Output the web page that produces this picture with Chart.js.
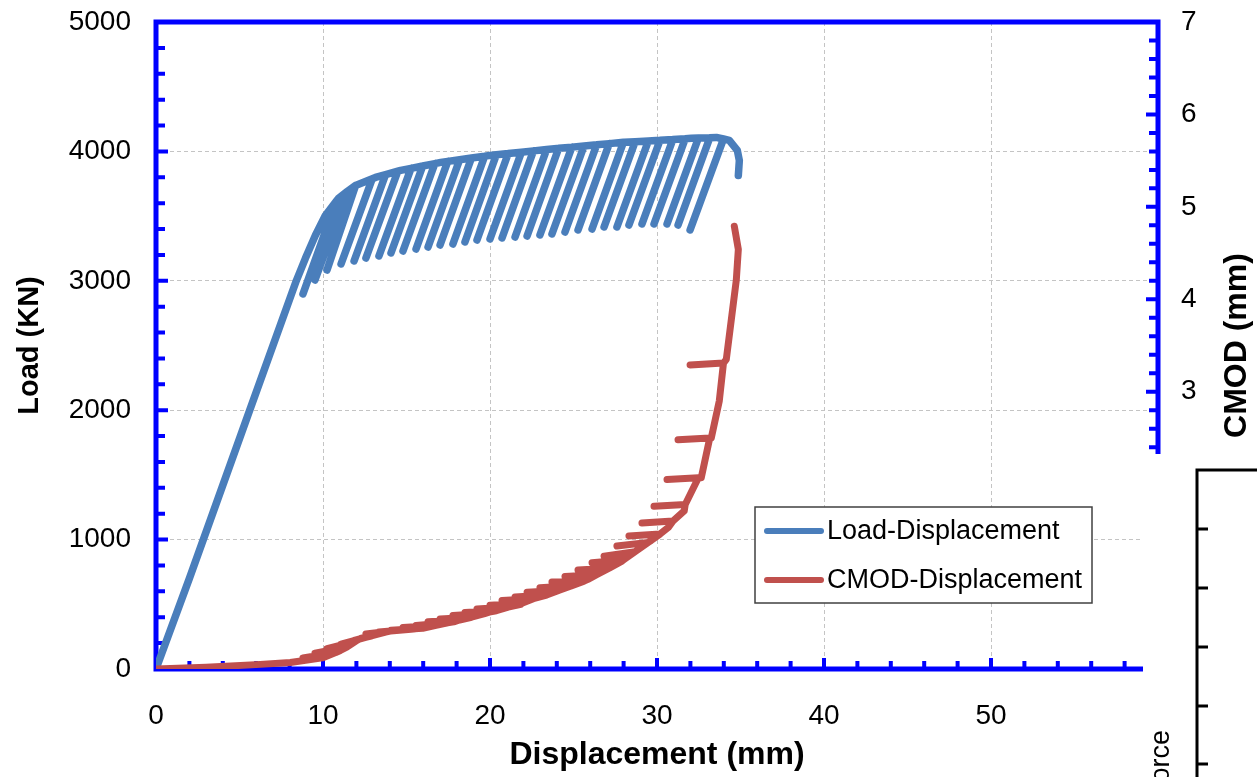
<!DOCTYPE html>
<html>
<head>
<meta charset="utf-8">
<script src="https://cdn.jsdelivr.net/npm/chart.js@4.4.1/dist/chart.umd.min.js"></script>
<style>
  html, body { margin: 0; padding: 0; background: #fff; }
  #wrap { width: 1257px; height: 777px; }
</style>
</head>
<body>
<div id="wrap"><canvas id="loadChart" width="1257" height="777"></canvas></div>
<script>
// envelope of the load curve (mm, kN)
const loadEnvDisp = [0, 2.0, 5.5, 8.4, 8.94, 9.54, 10.14, 10.92, 11.94, 13.14, 14.65, 17.05, 19.99, 24.01, 28.03, 32.05, 33.55, 34.33, 34.81, 34.93, 34.87];
const loadEnvKN = [0, 700, 1960, 3000, 3172, 3350, 3505, 3636, 3737, 3799, 3853, 3915, 3969, 4023, 4070, 4101, 4108, 4085, 4008, 3930, 3814];

// unload / reload cycles: start point on the envelope and lowest point
const cycleTopDisp = [10.8, 11.45, 11.95, 12.95, 13.75, 14.48, 15.27, 15.97, 16.70, 17.47, 18.18, 18.89, 19.68, 20.38, 21.09, 21.88, 22.60, 23.39, 24.11, 24.90, 25.63, 26.39, 27.14, 27.99, 28.69, 29.48, 30.18, 30.95, 31.69, 32.48, 33.16, 33.98];
const cycleTopKN = [3616, 3690, 3737, 3789, 3821, 3847, 3869, 3887, 3906, 3923, 3936, 3949, 3963, 3974, 3983, 3994, 4004, 4015, 4024, 4033, 4042, 4051, 4060, 4070, 4075, 4081, 4086, 4092, 4098, 4103, 4106, 4096];
const cycleLowDisp = [8.80, 9.52, 10.24, 11.08, 11.86, 12.57, 13.35, 14.07, 14.79, 15.57, 16.29, 17.01, 17.78, 18.50, 19.22, 20.00, 20.72, 21.50, 22.22, 22.99, 23.71, 24.49, 25.27, 26.11, 26.83, 27.60, 28.32, 29.10, 29.82, 30.60, 31.26, 31.98];
const cycleLowKN = [2898, 3006, 3083, 3130, 3153, 3176, 3192, 3215, 3230, 3245, 3261, 3276, 3284, 3300, 3315, 3323, 3331, 3338, 3346, 3354, 3362, 3377, 3393, 3400, 3416, 3416, 3431, 3439, 3439, 3439, 3431, 3393];

// CMOD envelope (mm, mm) and CMOD at the same cycles
const cmodEnvDisp = [0, 3.0, 6.24, 8.04, 9.96, 11.04, 12.24, 14.05, 15.85, 17.83, 20.05, 21.85, 23.83, 25.87, 27.85, 29.65, 30.67, 31.63, 32.65, 33.25, 33.73, 34.15, 34.45, 34.75, 34.87, 34.63];
const cmodEnvMM = [0, 0.02, 0.05, 0.07, 0.12, 0.20, 0.33, 0.41, 0.44, 0.51, 0.62, 0.70, 0.83, 0.97, 1.16, 1.39, 1.53, 1.71, 2.07, 2.50, 2.90, 3.35, 3.78, 4.21, 4.54, 4.79];
const cycleTopCmod = [0.18, 0.24, 0.30, 0.36, 0.40, 0.42, 0.43, 0.44, 0.47, 0.50, 0.53, 0.56, 0.60, 0.63, 0.67, 0.71, 0.76, 0.80, 0.85, 0.90, 0.95, 1.02, 1.09, 1.18, 1.27, 1.37, 1.46, 1.60, 1.78, 2.07, 2.50, 3.31];
const cycleLowCmod = [0.12, 0.17, 0.22, 0.27, 0.31, 0.38, 0.40, 0.42, 0.45, 0.47, 0.51, 0.54, 0.58, 0.61, 0.65, 0.69, 0.74, 0.78, 0.83, 0.88, 0.94, 1.00, 1.07, 1.15, 1.22, 1.33, 1.44, 1.58, 1.76, 2.05, 2.48, 3.29];

const seriesNames = ['Load-Displacement', 'CMOD-Displacement'];
const seriesColors = ['#4a7ebb', '#c0504d'];

const FONT = "'Liberation Sans', Arial, sans-serif";
const AXIS_BLUE = '#0000ff';

// walk the envelope and drop each cycle in where its displacement is reached
function buildSeries(envX, envY, topY, lowY) {
    const pts = [];
    let c = 0;
    envX.forEach((x, i) => {
        while (c < cycleTopDisp.length && cycleTopDisp[c] <= x) {
            pts.push({ x: cycleTopDisp[c], y: topY[c] });
            pts.push({ x: cycleLowDisp[c], y: lowY[c] });
            pts.push({ x: cycleTopDisp[c], y: topY[c] });
            c++;
        }
        pts.push({ x: x, y: envY[i] });
    });
    return pts;
}

// blue frame with inward minor/major ticks
const framePlugin = {
    id: 'frame',
    beforeDatasetsDraw(chart) {
        const { ctx, chartArea: a, scales } = chart;
        ctx.save();
        ctx.strokeStyle = AXIS_BLUE;
        ctx.lineWidth = 4;
        ctx.beginPath();
        for (let i = 0; i <= 30; i++) {
            const px = scales.x.getPixelForValue(i * 2);
            const len = i % 5 === 0 ? 11 : 8;
            ctx.moveTo(px, a.bottom);
            ctx.lineTo(px, a.bottom - len);
        }
        for (let i = 0; i <= 25; i++) {
            const py = scales.y.getPixelForValue(i * 200);
            const len = i % 5 === 0 ? 12 : 9;
            ctx.moveTo(a.left, py);
            ctx.lineTo(a.left + len, py);
        }
        for (let i = 0; i <= 35; i++) {
            const py = scales.y1.getPixelForValue(i / 5);
            const len = i % 5 === 0 ? 12 : 9;
            ctx.moveTo(a.right, py);
            ctx.lineTo(a.right - len, py);
        }
        ctx.stroke();
        ctx.lineWidth = 5;
        ctx.strokeRect(a.left, a.top, a.right - a.left, a.bottom - a.top);
        ctx.restore();
    },
    afterDraw(chart) {
        const { ctx, chartArea: a } = chart;
        ctx.save();
        // right title, reading upwards
        ctx.fillStyle = '#000';
        ctx.font = 'bold 32px ' + FONT;
        ctx.textAlign = 'center';
        ctx.textBaseline = 'middle';
        ctx.translate(1237, (a.top + a.bottom) / 2);
        ctx.rotate(-Math.PI / 2);
        ctx.fillText('CMOD (mm)', 0, 0);
        ctx.restore();

        // legend
        ctx.save();
        const lx = 755, ly = 507, lw = 337, lh = 96;
        ctx.fillStyle = '#fff';
        ctx.fillRect(lx, ly, lw, lh);
        ctx.strokeStyle = '#404040';
        ctx.lineWidth = 1.5;
        ctx.strokeRect(lx, ly, lw, lh);
        ctx.font = '27px ' + FONT;
        ctx.textBaseline = 'middle';
        ctx.lineCap = 'round';
        seriesNames.forEach((name, i) => {
            const yy = ly + 24 + i * 49;
            ctx.strokeStyle = seriesColors[i];
            ctx.lineWidth = 6;
            ctx.beginPath();
            ctx.moveTo(lx + 12, yy);
            ctx.lineTo(lx + 66, yy);
            ctx.stroke();
            ctx.fillStyle = '#000';
            ctx.fillText(name, lx + 72, yy + 1);
        });
        ctx.restore();

        // neighbouring figure that overlaps the lower right corner
        ctx.save();
        ctx.fillStyle = '#fff';
        ctx.fillRect(1143, 454, 200, 400);
        ctx.strokeStyle = '#000';
        ctx.lineWidth = 3;
        ctx.beginPath();
        ctx.moveTo(1197, 800);
        ctx.lineTo(1197, 470);
        ctx.lineTo(1260, 470);
        [529, 588, 647, 706, 764].forEach(t => {
            ctx.moveTo(1197, t);
            ctx.lineTo(1208, t);
        });
        ctx.stroke();
        ctx.fillStyle = '#000';
        ctx.font = '27px ' + FONT;
        ctx.translate(1162, 730);
        ctx.rotate(-Math.PI / 2);
        ctx.textAlign = 'right';
        ctx.textBaseline = 'middle';
        ctx.fillText('Force', 0, 0);
        ctx.restore();
    }
};

const gridStyle = { color: '#c4c4c4', lineWidth: 1, drawTicks: false };
const plainTick = v => String(v);

// fixed axis sizes so the plot box lands where the original had it
function fitVertical(width) {
    return scale => {
        scale.width = width;
        scale.paddingTop = 0;
        scale.paddingBottom = 0;
    };
}

const ctx = document.getElementById('loadChart').getContext('2d');
const loadChart = new Chart(ctx, {
    type: 'scatter',
    data: {
        datasets: [
            {
                label: seriesNames[1],
                data: buildSeries(cmodEnvDisp, cmodEnvMM, cycleTopCmod, cycleLowCmod),
                yAxisID: 'y1',
                showLine: true,
                borderColor: seriesColors[1],
                borderWidth: 7,
                borderCapStyle: 'round',
                borderJoinStyle: 'round',
                pointRadius: 0,
                tension: 0,
            },
            {
                label: seriesNames[0],
                data: buildSeries(loadEnvDisp, loadEnvKN, cycleTopKN, cycleLowKN),
                yAxisID: 'y',
                showLine: true,
                borderColor: seriesColors[0],
                borderWidth: 7.5,
                borderCapStyle: 'round',
                borderJoinStyle: 'round',
                pointRadius: 0,
                tension: 0,
            },
        ],
    },
    options: {
        responsive: false,
        animation: false,
        layout: { padding: { top: 22, left: 0, right: 0, bottom: 0 } },
        plugins: {
            legend: { display: false },
            tooltip: { enabled: false },
        },
        scales: {
            x: {
                type: 'linear',
                min: 0,
                max: 60,
                grid: gridStyle,
                border: { display: false, dash: [4, 3] },
                ticks: { stepSize: 10, padding: 30, color: '#000', font: { family: FONT, size: 28 }, callback: plainTick },
                title: {
                    display: true,
                    text: 'Displacement (mm)',
                    color: '#000',
                    font: { family: FONT, size: 32, weight: 'bold' },
                    padding: { top: 0, bottom: 3 },
                },
                afterFit: scale => { scale.height = 108; },
            },
            y: {
                position: 'left',
                min: 0,
                max: 5000,
                grid: gridStyle,
                border: { display: false, dash: [4, 3] },
                ticks: { stepSize: 1000, padding: 25, color: '#000', font: { family: FONT, size: 28 }, callback: plainTick },
                title: {
                    display: true,
                    text: 'Load (KN)',
                    color: '#000',
                    font: { family: FONT, size: 29, weight: 'bold' },
                    padding: { top: 13, bottom: 0 },
                },
                afterFit: fitVertical(156),
            },
            y1: {
                position: 'right',
                min: 0,
                max: 7,
                grid: { display: false, drawTicks: false },
                border: { display: false },
                ticks: { stepSize: 1, padding: 23, color: '#000', font: { family: FONT, size: 28 }, callback: plainTick },
                afterFit: fitVertical(99),
            },
        },
    },
    plugins: [framePlugin],
});
</script>
</body>
</html>
